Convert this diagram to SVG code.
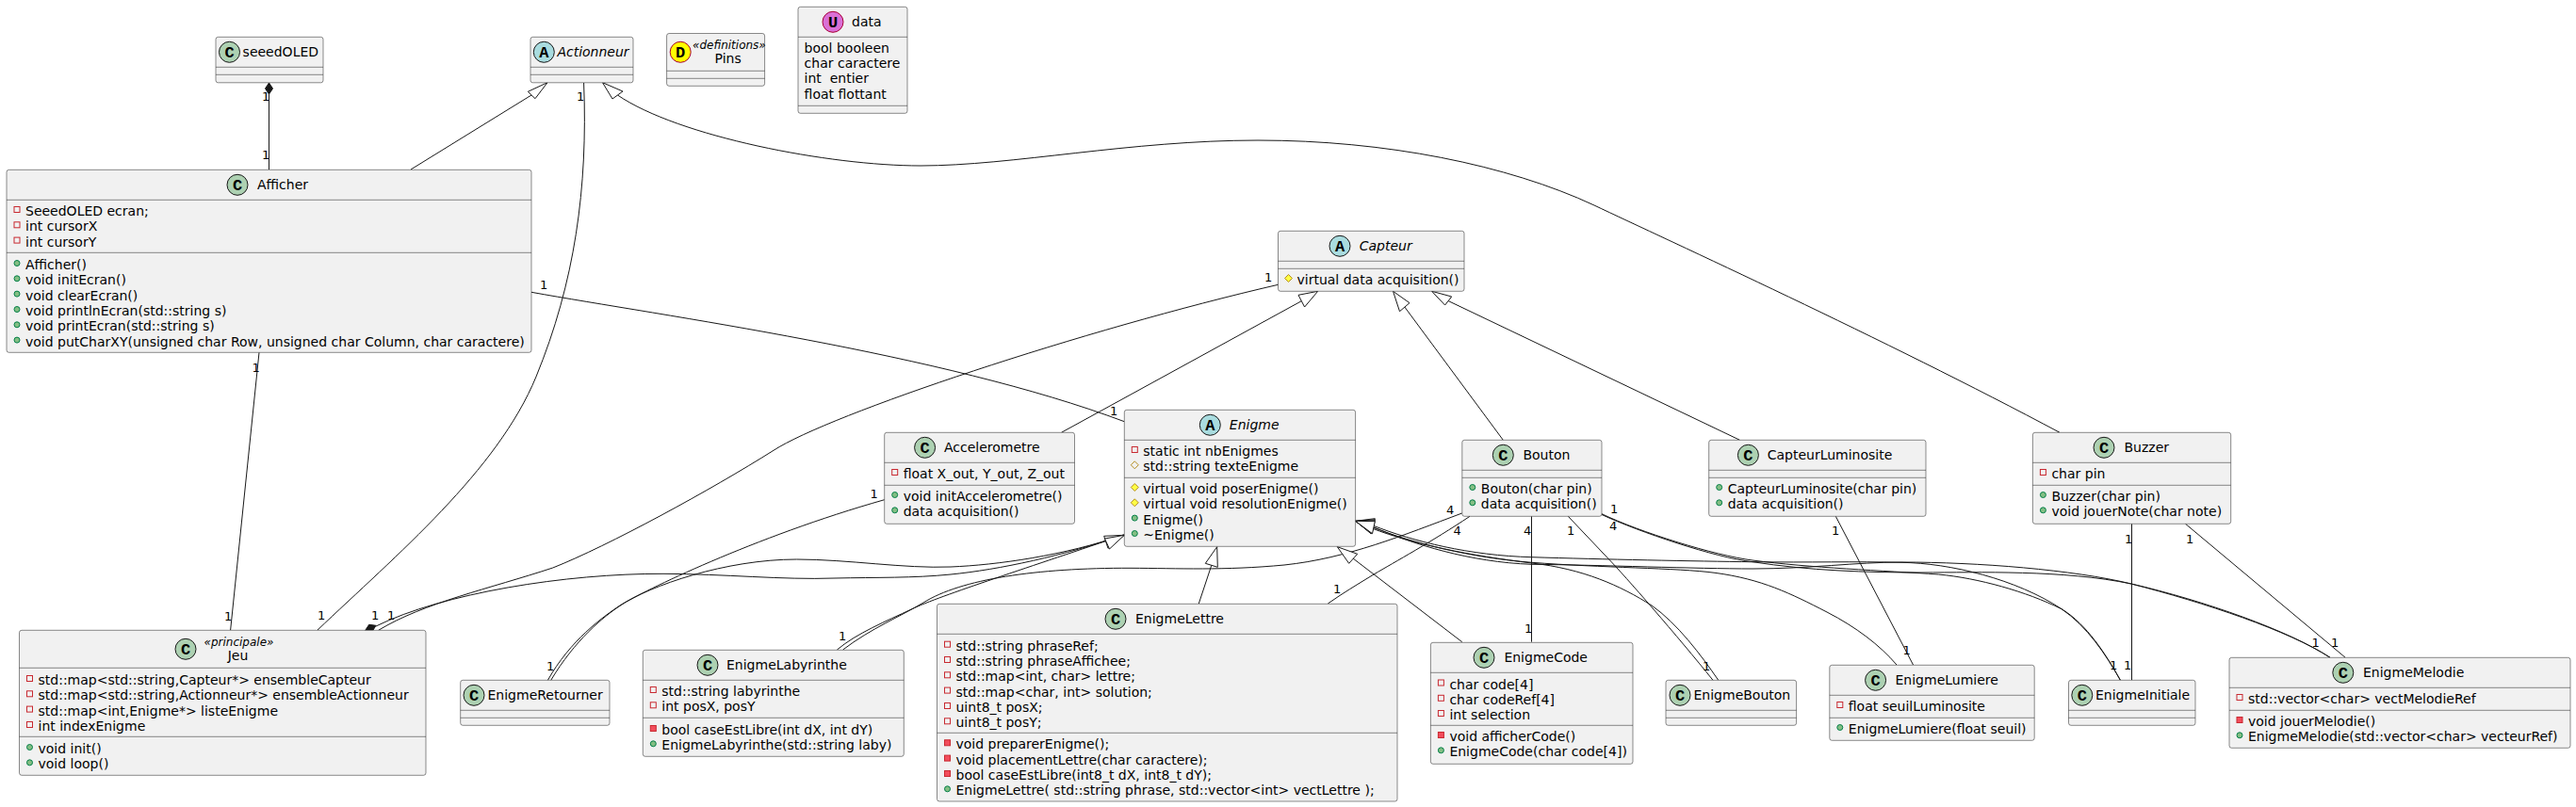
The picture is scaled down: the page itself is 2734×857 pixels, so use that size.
<svg xmlns="http://www.w3.org/2000/svg" width="2734" height="857" viewBox="0 0 2734 857">
<style>
text{font-family:"DejaVu Sans",sans-serif;font-size:14px;fill:#000}
.box{fill:#F1F1F1;stroke:#181818;stroke-width:.5}
.sep{stroke:#181818;stroke-width:.5}
.spot{stroke:#181818;stroke-width:1}
.sc{fill:#ADD1B2}.sa{fill:#A9DCDF}.sd{fill:#FFFF00;stroke:#A80036}.su{fill:#DA70D6;stroke:#A80036}
.g{font-family:"Liberation Mono",monospace;font-weight:bold;font-size:17px;text-anchor:middle}
.i{font-style:italic}
.st{font-style:italic;font-size:12px}
.lb{font-size:13px}
.c{fill:none;stroke:#181818;stroke-width:1}
.ext{fill:#fff;stroke:#181818;stroke-width:1}
.comp{fill:#181818;stroke:#181818;stroke-width:1}
</style>
<defs>
<rect id="pa" x="0" y="-9.5" width="6" height="6" fill="none" stroke="#C82930"/>
<rect id="pm" x="0" y="-9.5" width="6" height="6" fill="#F24D5C" stroke="#C82930"/>
<circle id="pu" cx="3" cy="-6.5" r="3" fill="#84BE84" stroke="#038048"/>
<polygon id="ra" points="3,-10.5 7,-6.5 3,-2.5 -1,-6.5" fill="none" stroke="#B38D22"/>
<polygon id="rm" points="3,-10.5 7,-6.5 3,-2.5 -1,-6.5" fill="#FFFF44" stroke="#B38D22"/>
</defs>

<g id="connectors">
<path class="c" d="M285.5,100V180"/>
<polygon class="comp" points="285.5,88 289.5,94 285.5,100 281.5,94"/>
<path class="c" d="M564,101L436,180"/>
<polygon class="ext" points="581,87.7 560.3,97.3 568,104.7"/>
<path class="c" d="M655.5,101C720,145 880,176 977,176C1074,176 1200,149 1335,149C1470,149 1600,175 1692,218C1770,255 2000,360 2186,459.3"/>
<polygon class="ext" points="639.5,87.7 661,97 650,105"/>
<path class="c" d="M619.6,88C624,200 610,300 569,400C528,500 420,590 336.8,669.3"/>
<path class="c" d="M275,374.3L244.6,669.3"/>
<path class="c" d="M564,310.3C700,335 1000,375 1193.3,447.7"/>
<path class="c" d="M401.7,669.3C450,640 520,625 586.7,603C645,580 755,520 821,478.3C880,440 1150,350 1356.5,302.3"/>
<path class="c" d="M399,665C470,630 600,609 704,609.3C770,609.5 830,616 886,614C930,613 970,614 1009,610C1060,605 1130,590 1192.6,568"/>
<polygon class="comp" points="387.3,670 391.7,663.3 399,664.3 395,670.7"/>
<path class="c" d="M581.2,722.7C605,680 640,655 658,643C690,622 770,594 845.6,594C900,594 960,604 1009,602C1058,600 1130,590 1192.6,568"/>
<path class="c" d="M584.5,722.7C610,680 640,655 660,642C680,629 800,570 938.7,530.7"/>
<path class="c" d="M888.4,690C910,672 940,660 968,646.7C996,633 1100,600 1192.6,568"/>
<path class="c" d="M894.6,690C925,667 955,655 980,640C1020,615 1100,603 1200,603.3C1250,603.5 1300,606 1363,600C1430,593 1490,568 1551.7,545"/>
<polygon class="ext" points="1193.3,568.3 1171.7,569.3 1176,582.3"/>
<polygon class="ext" points="1193.3,568.3 1172.5,572 1177.5,583"/>
<path class="c" d="M1285.8,600.3L1272.3,641"/>
<polygon class="ext" points="1291.7,580.7 1279.3,598.3 1292.3,602.3"/>
<path class="c" d="M1436,593L1551.7,681.7"/>
<polygon class="ext" points="1419.3,580.7 1440.7,588.3 1431.7,598.3"/>
<path class="c" d="M1560,548.3C1520,575 1480,597 1458,610C1440,621 1425,630 1409.3,641"/>
<path class="c" d="M1625.5,548.3V681.7"/>
<path class="c" d="M1664.3,548.3L1706.7,593C1725,612 1780,675 1818.3,722.7"/>
<path class="c" d="M1457,558C1500,575 1560,590 1625.7,591.7C1700,594 1800,596 1860,596.7C1920,597.5 1970,596 2018,597.3C2070,598 2140,615 2188,646.7C2215,665 2235,695 2250.4,722.3"/>
<path class="c" d="M1457,559.5C1500,578 1560,597 1625.7,599.3C1700,600 1800,604 1860,604C1920,604 1970,597 2018,597C2100,597 2200,605 2262,620C2340,640 2430,670 2473,698.3"/>
<path class="c" d="M1457,560C1500,577 1560,592 1625.7,597.3C1700,603 1780,603 1820,608.3C1870,615 1900,630 1939,650C1970,666 1995,685 2013,706"/>
<path class="c" d="M1456,561C1500,578 1560,590 1625.7,598C1680,604 1720,622 1753,643C1780,662 1805,695 1824,722.7"/>
<path class="c" d="M1700,545.7C1740,565 1820,590 1860,595C1920,603 2000,606 2057.5,610C2100,614 2150,628 2188,646.7C2215,663 2235,695 2250.4,722.3"/>
<path class="c" d="M1700,546.5C1740,565 1820,592 1860,596.7C1920,606 1980,608 2040,608C2100,608 2190,605 2262,620C2340,638 2430,670 2473,698.3"/>
<polygon class="ext" points="1438.6,553.3 1459.3,550.7 1455,566.7"/>
<polygon class="ext" points="1438.6,553.3 1459.3,551.7 1455.5,566.7"/>
<polygon class="ext" points="1438.6,553.3 1459.3,552.7 1456,566.7"/>
<polygon class="ext" points="1438.6,553.3 1459.3,553.7 1456.5,566.7"/>
<path class="c" d="M1381.3,319.7L1126.5,459.3"/>
<polygon class="ext" points="1398.7,309.3 1378,313.3 1384.6,326"/>
<path class="c" d="M1490.8,326L1595.3,467.3"/>
<polygon class="ext" points="1478.5,309.3 1496,321.7 1485.5,330.7"/>
<path class="c" d="M1537,319.5L1846.5,467.3"/>
<polygon class="ext" points="1519.6,309.3 1540.7,315 1533.6,324"/>
<path class="c" d="M1948.3,548.3L2030.5,706"/>
<path class="c" d="M2262.5,556.3V722.3"/>
<path class="c" d="M2319.5,556.3L2489.2,698.3"/>
<text class="lb" x="278" y="107">1</text><text class="lb" x="278" y="169">1</text>
<text class="lb" x="612" y="107">1</text><text class="lb" x="337" y="658">1</text>
<text class="lb" x="267.5" y="395">1</text><text class="lb" x="238" y="659">1</text>
<text class="lb" x="573" y="307">1</text><text class="lb" x="1178" y="441">1</text>
<text class="lb" x="394" y="658">1</text><text class="lb" x="411" y="658">1</text>
<text class="lb" x="1342" y="299">1</text>
<text class="lb" x="923.5" y="529">1</text><text class="lb" x="580" y="711.5">1</text>
<text class="lb" x="890" y="679.5">1</text>
<text class="lb" x="1535" y="546">4</text><text class="lb" x="1542.5" y="568">4</text>
<text class="lb" x="1415" y="630">1</text><text class="lb" x="1617" y="568">4</text>
<text class="lb" x="1618" y="672">1</text><text class="lb" x="1663" y="568">1</text>
<text class="lb" x="1807" y="712">1</text><text class="lb" x="1709" y="545">1</text>
<text class="lb" x="1708" y="563">4</text><text class="lb" x="1944" y="568">1</text>
<text class="lb" x="2019.5" y="695">1</text><text class="lb" x="2255" y="577">1</text>
<text class="lb" x="2254" y="711">1</text><text class="lb" x="2239" y="711">1</text>
<text class="lb" x="2320" y="577">1</text><text class="lb" x="2474" y="687">1</text>
<text class="lb" x="2453.5" y="687">1</text>
</g>

<g id="seeedOLED">
<rect class="box" x="229" y="39.3" width="114" height="48.5" rx="2.5"/>
<path class="sep" d="M229,71.3H343M229,79.3H343"/>
<circle class="spot sc" cx="243.5" cy="55.3" r="11"/><text class="g" x="243.5" y="60.5">C</text>
<text x="257.6" y="60">seeedOLED</text>
</g>
<g id="Actionneur">
<rect class="box" x="563" y="39.3" width="109" height="48.5" rx="2.5"/>
<path class="sep" d="M563,71.3H672M563,79.3H672"/>
<circle class="spot sa" cx="577.3" cy="55.3" r="11"/><text class="g" x="577.3" y="60.5">A</text>
<text class="i" x="591.4" y="60">Actionneur</text>
</g>
<g id="Pins">
<rect class="box" x="707.6" y="35.5" width="104" height="55.8" rx="2.5"/>
<path class="sep" d="M707.6,75.3H811.6M707.6,83.3H811.6"/>
<circle class="spot sd" cx="722.2" cy="55.3" r="11"/><text class="g" x="722.2" y="60.5">D</text>
<text class="st" x="735" y="51.7">«definitions»</text>
<text x="758.6" y="67">Pins</text>
</g>
<g id="data">
<rect class="box" x="847" y="7.3" width="116" height="113" rx="2.5"/>
<path class="sep" d="M847,39.3H963M847,112.3H963"/>
<circle class="spot su" cx="884" cy="23.3" r="11"/><text class="g" x="884" y="28.5">U</text>
<text x="904" y="28">data</text>
<text x="853.6" y="55.7">bool booleen</text>
<text x="853.6" y="72">char caractere</text>
<text x="853.6" y="88.3" xml:space="preserve">int  entier</text>
<text x="853.6" y="104.5">float flottant</text>
</g>
<g id="Afficher">
<rect class="box" x="7" y="180.3" width="557" height="194" rx="2.5"/>
<path class="sep" d="M7,212.3H564M7,268.3H564"/>
<circle class="spot sc" cx="252" cy="196.3" r="11"/><text class="g" x="252" y="201.5">C</text>
<text x="273" y="201">Afficher</text>
<use href="#pa" x="15" y="229"/><text x="27" y="229">SeeedOLED ecran;</text>
<use href="#pa" x="15" y="245.3"/><text x="27" y="245.3">int cursorX</text>
<use href="#pa" x="15" y="261.6"/><text x="27" y="261.6">int cursorY</text>
<use href="#pu" x="15" y="286"/><text x="27" y="286">Afficher()</text>
<use href="#pu" x="15" y="302.3"/><text x="27" y="302.3">void initEcran()</text>
<use href="#pu" x="15" y="318.6"/><text x="27" y="318.6">void clearEcran()</text>
<use href="#pu" x="15" y="335"/><text x="27" y="335">void printlnEcran(std::string s)</text>
<use href="#pu" x="15" y="351.3"/><text x="27" y="351.3">void printEcran(std::string s)</text>
<use href="#pu" x="15" y="367.6"/><text x="27" y="367.6">void putCharXY(unsigned char Row, unsigned char Column, char caractere)</text>
</g>
<g id="Jeu">
<rect class="box" x="20.5" y="669.3" width="431.5" height="154" rx="2.5"/>
<path class="sep" d="M20.5,709.3H452M20.5,782.3H452"/>
<circle class="spot sc" cx="197" cy="689.3" r="11"/><text class="g" x="197" y="694.5">C</text>
<text class="st" x="216.5" y="685.7">«principale»</text>
<text x="241.7" y="701">Jeu</text>
<use href="#pa" x="28.5" y="727"/><text x="40.5" y="727">std::map&lt;std::string,Capteur*&gt; ensembleCapteur</text>
<use href="#pa" x="28.5" y="743.3"/><text x="40.5" y="743.3">std::map&lt;std::string,Actionneur*&gt; ensembleActionneur</text>
<use href="#pa" x="28.5" y="759.6"/><text x="40.5" y="759.6">std::map&lt;int,Enigme*&gt; listeEnigme</text>
<use href="#pa" x="28.5" y="776"/><text x="40.5" y="776">int indexEnigme</text>
<use href="#pu" x="28.5" y="800"/><text x="40.5" y="800">void init()</text>
<use href="#pu" x="28.5" y="816.3"/><text x="40.5" y="816.3">void loop()</text>
</g>
<g id="EnigmeRetourner">
<rect class="box" x="488.7" y="722.3" width="158.3" height="48" rx="2.5"/>
<path class="sep" d="M488.7,754.3H647M488.7,762.3H647"/>
<circle class="spot sc" cx="503" cy="738.3" r="11"/><text class="g" x="503" y="743.5">C</text>
<text x="517.5" y="743.3">EnigmeRetourner</text>
</g>
<g id="EnigmeLabyrinthe">
<rect class="box" x="682.3" y="690.3" width="277" height="113" rx="2.5"/>
<path class="sep" d="M682.3,722.3H959.3M682.3,762.3H959.3"/>
<circle class="spot sc" cx="751" cy="706.3" r="11"/><text class="g" x="751" y="711.5">C</text>
<text x="771" y="711">EnigmeLabyrinthe</text>
<use href="#pa" x="690.3" y="739"/><text x="702.3" y="739">std::string labyrinthe</text>
<use href="#pa" x="690.3" y="755.3"/><text x="702.3" y="755.3">int posX, posY</text>
<use href="#pm" x="690.3" y="780"/><text x="702.3" y="780">bool caseEstLibre(int dX, int dY)</text>
<use href="#pu" x="690.3" y="796.3"/><text x="702.3" y="796.3">EnigmeLabyrinthe(std::string laby)</text>
</g>
<g id="EnigmeLettre">
<rect class="box" x="994.5" y="641.3" width="488.5" height="209.7" rx="2.5"/>
<path class="sep" d="M994.5,673.3H1483M994.5,778.3H1483"/>
<circle class="spot sc" cx="1184" cy="657.3" r="11"/><text class="g" x="1184" y="662.5">C</text>
<text x="1205" y="662">EnigmeLettre</text>
<use href="#pa" x="1002.5" y="690.7"/><text x="1014.5" y="690.7">std::string phraseRef;</text>
<use href="#pa" x="1002.5" y="707"/><text x="1014.5" y="707">std::string phraseAffichee;</text>
<use href="#pa" x="1002.5" y="723.3"/><text x="1014.5" y="723.3">std::map&lt;int, char&gt; lettre;</text>
<use href="#pa" x="1002.5" y="739.6"/><text x="1014.5" y="739.6">std::map&lt;char, int&gt; solution;</text>
<use href="#pa" x="1002.5" y="756"/><text x="1014.5" y="756">uint8_t posX;</text>
<use href="#pa" x="1002.5" y="772.3"/><text x="1014.5" y="772.3">uint8_t posY;</text>
<use href="#pm" x="1002.5" y="795.3"/><text x="1014.5" y="795.3">void preparerEnigme();</text>
<use href="#pm" x="1002.5" y="811.6"/><text x="1014.5" y="811.6">void placementLettre(char caractere);</text>
<use href="#pm" x="1002.5" y="828"/><text x="1014.5" y="828">bool caseEstLibre(int8_t dX, int8_t dY);</text>
<use href="#pu" x="1002.5" y="844.3"/><text x="1014.5" y="844.3">EnigmeLettre( std::string phrase, std::vector&lt;int&gt; vectLettre );</text>
</g>
<g id="EnigmeCode">
<rect class="box" x="1518.4" y="682.3" width="214.6" height="129" rx="2.5"/>
<path class="sep" d="M1518.4,714.3H1733M1518.4,770.3H1733"/>
<circle class="spot sc" cx="1575" cy="698.3" r="11"/><text class="g" x="1575" y="703.5">C</text>
<text x="1596.4" y="703">EnigmeCode</text>
<use href="#pa" x="1526.4" y="731.5"/><text x="1538.4" y="731.5">char code[4]</text>
<use href="#pa" x="1526.4" y="747.8"/><text x="1538.4" y="747.8">char codeRef[4]</text>
<use href="#pa" x="1526.4" y="764"/><text x="1538.4" y="764">int selection</text>
<use href="#pm" x="1526.4" y="787"/><text x="1538.4" y="787">void afficherCode()</text>
<use href="#pu" x="1526.4" y="803.3"/><text x="1538.4" y="803.3">EnigmeCode(char code[4])</text>
</g>
<g id="EnigmeBouton">
<rect class="box" x="1768" y="722.3" width="138.6" height="48" rx="2.5"/>
<path class="sep" d="M1768,754.3H1906.6M1768,762.3H1906.6"/>
<circle class="spot sc" cx="1783" cy="738.3" r="11"/><text class="g" x="1783" y="743.5">C</text>
<text x="1797.5" y="743.3">EnigmeBouton</text>
</g>
<g id="EnigmeLumiere">
<rect class="box" x="1941.8" y="706.3" width="217.4" height="80" rx="2.5"/>
<path class="sep" d="M1941.8,738.3H2159.2M1941.8,762.3H2159.2"/>
<circle class="spot sc" cx="1990.6" cy="722.3" r="11"/><text class="g" x="1990.6" y="727.5">C</text>
<text x="2011.5" y="727">EnigmeLumiere</text>
<use href="#pa" x="1949.8" y="755"/><text x="1961.8" y="755">float seuilLuminosite</text>
<use href="#pu" x="1949.8" y="779"/><text x="1961.8" y="779">EnigmeLumiere(float seuil)</text>
</g>
<g id="EnigmeInitiale">
<rect class="box" x="2195.5" y="722.3" width="134.5" height="48" rx="2.5"/>
<path class="sep" d="M2195.5,754.3H2330M2195.5,762.3H2330"/>
<circle class="spot sc" cx="2209.8" cy="738.3" r="11"/><text class="g" x="2209.8" y="743.5">C</text>
<text x="2224" y="743.3">EnigmeInitiale</text>
</g>
<g id="EnigmeMelodie">
<rect class="box" x="2366" y="698.3" width="362" height="96" rx="2.5"/>
<path class="sep" d="M2366,730.3H2728M2366,754.3H2728"/>
<circle class="spot sc" cx="2486.8" cy="714.3" r="11"/><text class="g" x="2486.8" y="719.5">C</text>
<text x="2508" y="719">EnigmeMelodie</text>
<use href="#pa" x="2374" y="747"/><text x="2386" y="747">std::vector&lt;char&gt; vectMelodieRef</text>
<use href="#pm" x="2374" y="771"/><text x="2386" y="771">void jouerMelodie()</text>
<use href="#pu" x="2374" y="787.3"/><text x="2386" y="787.3">EnigmeMelodie(std::vector&lt;char&gt; vecteurRef)</text>
</g>
<g id="Buzzer">
<rect class="box" x="2157.4" y="459.3" width="210.3" height="97" rx="2.5"/>
<path class="sep" d="M2157.4,491.3H2367.7M2157.4,515.3H2367.7"/>
<circle class="spot sc" cx="2233" cy="475.3" r="11"/><text class="g" x="2233" y="480.5">C</text>
<text x="2254.5" y="480">Buzzer</text>
<use href="#pa" x="2165.4" y="508"/><text x="2177.4" y="508">char pin</text>
<use href="#pu" x="2165.4" y="532"/><text x="2177.4" y="532">Buzzer(char pin)</text>
<use href="#pu" x="2165.4" y="548.3"/><text x="2177.4" y="548.3">void jouerNote(char note)</text>
</g>
<g id="CapteurLuminosite">
<rect class="box" x="1813.7" y="467.3" width="230.3" height="81" rx="2.5"/>
<path class="sep" d="M1813.7,499.3H2044M1813.7,507.3H2044"/>
<circle class="spot sc" cx="1855.4" cy="483.3" r="11"/><text class="g" x="1855.4" y="488.5">C</text>
<text x="1875.7" y="488">CapteurLuminosite</text>
<use href="#pu" x="1821.7" y="524"/><text x="1833.7" y="524">CapteurLuminosite(char pin)</text>
<use href="#pu" x="1821.7" y="540.3"/><text x="1833.7" y="540.3">data acquisition()</text>
</g>
<g id="Bouton">
<rect class="box" x="1551.8" y="467.3" width="148.2" height="81" rx="2.5"/>
<path class="sep" d="M1551.8,499.3H1700M1551.8,507.3H1700"/>
<circle class="spot sc" cx="1595.3" cy="483.3" r="11"/><text class="g" x="1595.3" y="488.5">C</text>
<text x="1616.4" y="488">Bouton</text>
<use href="#pu" x="1559.8" y="524"/><text x="1571.8" y="524">Bouton(char pin)</text>
<use href="#pu" x="1559.8" y="540.3"/><text x="1571.8" y="540.3">data acquisition()</text>
</g>
<g id="Enigme">
<rect class="box" x="1193.3" y="435.3" width="245.3" height="145" rx="2.5"/>
<path class="sep" d="M1193.3,467.3H1438.6M1193.3,507.3H1438.6"/>
<circle class="spot sa" cx="1284.3" cy="451.3" r="11"/><text class="g" x="1284.3" y="456.5">A</text>
<text class="i" x="1304.8" y="456">Enigme</text>
<use href="#pa" x="1201.3" y="484"/><text x="1213.3" y="484">static int nbEnigmes</text>
<use href="#ra" x="1201.3" y="500.3"/><text x="1213.3" y="500.3">std::string texteEnigme</text>
<use href="#rm" x="1201.3" y="524"/><text x="1213.3" y="524">virtual void poserEnigme()</text>
<use href="#rm" x="1201.3" y="540.3"/><text x="1213.3" y="540.3">virtual void resolutionEnigme()</text>
<use href="#pu" x="1201.3" y="556.6"/><text x="1213.3" y="556.6">Enigme()</text>
<use href="#pu" x="1201.3" y="573"/><text x="1213.3" y="573">~Enigme()</text>
</g>
<g id="Accelerometre">
<rect class="box" x="938.7" y="459.3" width="201.8" height="97" rx="2.5"/>
<path class="sep" d="M938.7,491.3H1140.5M938.7,515.3H1140.5"/>
<circle class="spot sc" cx="981.6" cy="475.3" r="11"/><text class="g" x="981.6" y="480.5">C</text>
<text x="1002" y="480">Accelerometre</text>
<use href="#pa" x="946.7" y="508"/><text x="958.7" y="508">float X_out, Y_out, Z_out</text>
<use href="#pu" x="946.7" y="532"/><text x="958.7" y="532">void initAccelerometre()</text>
<use href="#pu" x="946.7" y="548.3"/><text x="958.7" y="548.3">data acquisition()</text>
</g>
<g id="Capteur">
<rect class="box" x="1356.5" y="245.3" width="197.5" height="64" rx="2.5"/>
<path class="sep" d="M1356.5,277.3H1554M1356.5,285.3H1554"/>
<circle class="spot sa" cx="1422" cy="261.3" r="11"/><text class="g" x="1422" y="266.5">A</text>
<text class="i" x="1442.7" y="266">Capteur</text>
<use href="#rm" x="1364.5" y="302"/><text x="1376.5" y="302">virtual data acquisition()</text>
</g>
</svg>
